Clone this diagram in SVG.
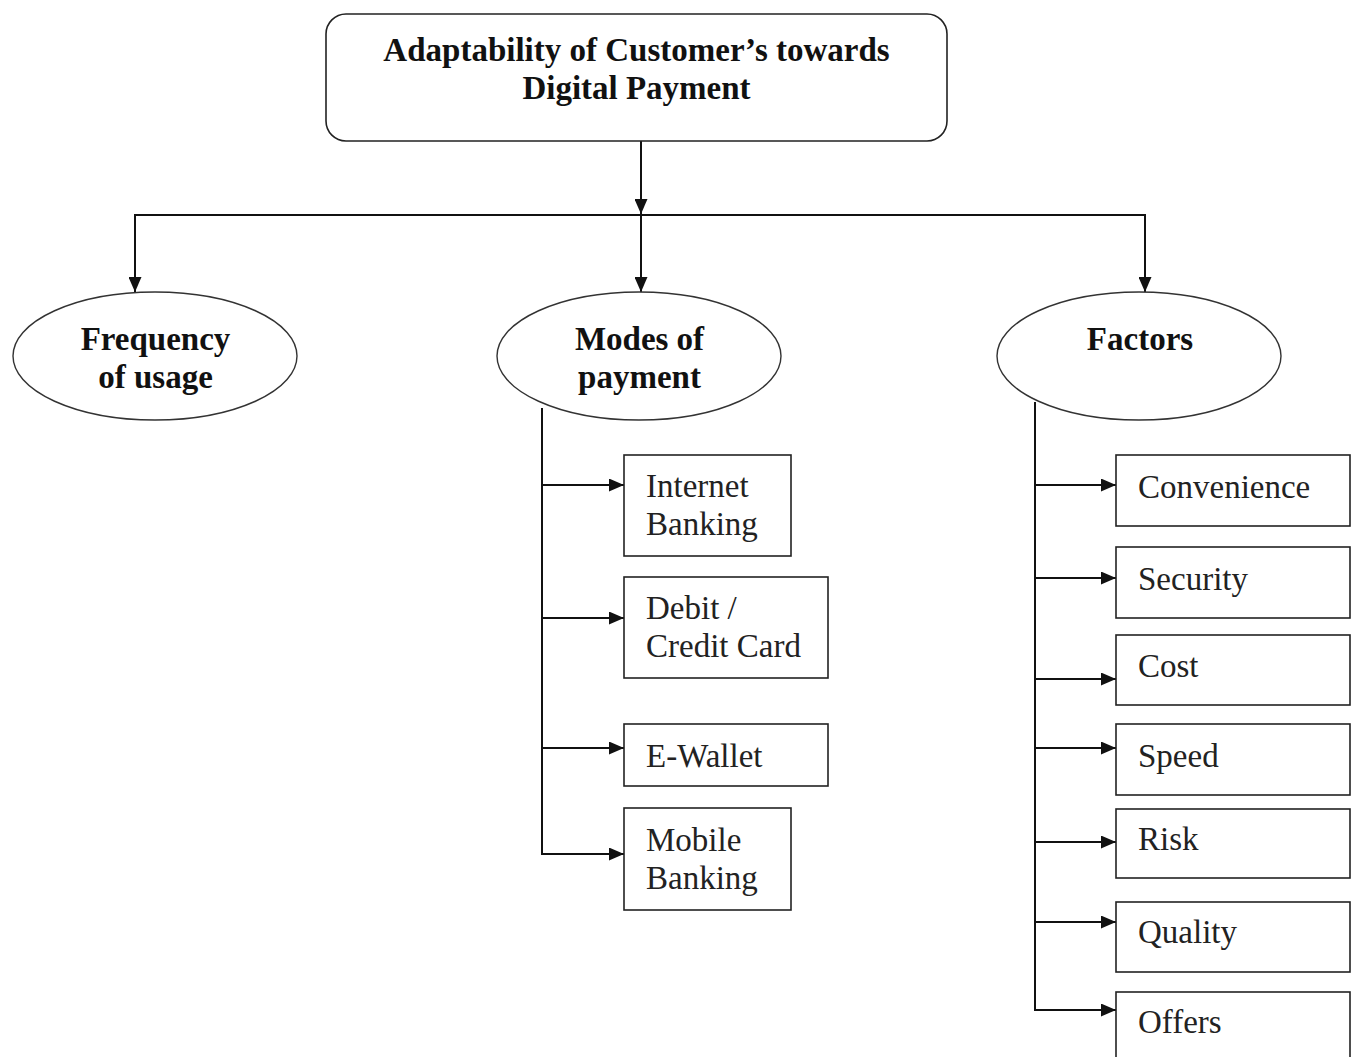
<svg xmlns="http://www.w3.org/2000/svg" width="1351" height="1057" viewBox="0 0 1351 1057">
<style>
.box{fill:#fff;stroke:#222;stroke-width:1.6}
.ell{fill:#fff;stroke:#333;stroke-width:1.4}
.con{fill:none;stroke:#111;stroke-width:2}
.b{font-family:"Liberation Serif","Times New Roman",serif;font-weight:bold;font-size:33px;fill:#111;text-anchor:middle}
.r{font-family:"Liberation Serif","Times New Roman",serif;font-size:33px;fill:#222}
</style>
<defs>
<marker id="ah" markerUnits="userSpaceOnUse" markerWidth="15" markerHeight="13" refX="15" refY="6.5" orient="auto">
<path d="M0,0 L15,6.5 L0,13 z" fill="#111"/>
</marker>
</defs>
<rect width="1351" height="1057" fill="#fff"/>
<g id="connectors">
<line class="con" x1="641" y1="141" x2="641" y2="214" marker-end="url(#ah)"/>
<line class="con" x1="134" y1="215" x2="1146" y2="215"/>
<line class="con" x1="135" y1="214" x2="135" y2="292" marker-end="url(#ah)"/>
<line class="con" x1="641" y1="214" x2="641" y2="292" marker-end="url(#ah)"/>
<line class="con" x1="1145" y1="214" x2="1145" y2="292" marker-end="url(#ah)"/>
<line class="con" x1="542" y1="408" x2="542" y2="855"/>
<line class="con" x1="541" y1="485" x2="624" y2="485" marker-end="url(#ah)"/>
<line class="con" x1="541" y1="618" x2="624" y2="618" marker-end="url(#ah)"/>
<line class="con" x1="541" y1="748" x2="624" y2="748" marker-end="url(#ah)"/>
<line class="con" x1="541" y1="854" x2="624" y2="854" marker-end="url(#ah)"/>
<line class="con" x1="1035" y1="402" x2="1035" y2="1011"/>
<line class="con" x1="1034" y1="485" x2="1116" y2="485" marker-end="url(#ah)"/>
<line class="con" x1="1034" y1="578" x2="1116" y2="578" marker-end="url(#ah)"/>
<line class="con" x1="1034" y1="679" x2="1116" y2="679" marker-end="url(#ah)"/>
<line class="con" x1="1034" y1="748" x2="1116" y2="748" marker-end="url(#ah)"/>
<line class="con" x1="1034" y1="842" x2="1116" y2="842" marker-end="url(#ah)"/>
<line class="con" x1="1034" y1="922" x2="1116" y2="922" marker-end="url(#ah)"/>
<line class="con" x1="1034" y1="1010" x2="1116" y2="1010" marker-end="url(#ah)"/>
</g>
<g id="title">
<rect class="box" x="326" y="14" width="621" height="127" rx="20"/>
<text class="b" x="636.5" y="61">Adaptability of Customer’s towards</text>
<text class="b" x="636.5" y="99">Digital Payment</text>
</g>
<g id="frequency">
<ellipse class="ell" cx="155" cy="356" rx="142" ry="64"/>
<text class="b" x="155.5" y="350">Frequency</text>
<text class="b" x="155.5" y="388">of usage</text>
</g>
<g id="modes">
<ellipse class="ell" cx="639" cy="356" rx="142" ry="64"/>
<text class="b" x="639.5" y="350">Modes of</text>
<text class="b" x="639.5" y="388">payment</text>
</g>
<g id="factors">
<ellipse class="ell" cx="1139" cy="356" rx="142" ry="64"/>
<text class="b" x="1140" y="350">Factors</text>
</g>
<g id="internet-banking">
<rect class="box" x="624" y="455" width="167" height="101"/>
<text class="r" x="646" y="497">Internet</text>
<text class="r" x="646" y="535">Banking</text>
</g>
<g id="debit-credit">
<rect class="box" x="624" y="577" width="204" height="101"/>
<text class="r" x="646" y="619">Debit /</text>
<text class="r" x="646" y="657">Credit Card</text>
</g>
<g id="e-wallet">
<rect class="box" x="624" y="724" width="204" height="62"/>
<text class="r" x="646" y="767">E-Wallet</text>
</g>
<g id="mobile-banking">
<rect class="box" x="624" y="808" width="167" height="102"/>
<text class="r" x="646" y="851">Mobile</text>
<text class="r" x="646" y="889">Banking</text>
</g>
<g id="convenience">
<rect class="box" x="1116" y="455" width="234" height="71"/>
<text class="r" x="1138" y="498">Convenience</text>
</g>
<g id="security">
<rect class="box" x="1116" y="547" width="234" height="71"/>
<text class="r" x="1138" y="590">Security</text>
</g>
<g id="cost">
<rect class="box" x="1116" y="635" width="234" height="70"/>
<text class="r" x="1138" y="677">Cost</text>
</g>
<g id="speed">
<rect class="box" x="1116" y="724" width="234" height="71"/>
<text class="r" x="1138" y="767">Speed</text>
</g>
<g id="risk">
<rect class="box" x="1116" y="809" width="234" height="69"/>
<text class="r" x="1138" y="850">Risk</text>
</g>
<g id="quality">
<rect class="box" x="1116" y="902" width="234" height="70"/>
<text class="r" x="1138" y="943">Quality</text>
</g>
<g id="offers">
<rect class="box" x="1116" y="992" width="234" height="80"/>
<text class="r" x="1138" y="1033">Offers</text>
</g>
</svg>
